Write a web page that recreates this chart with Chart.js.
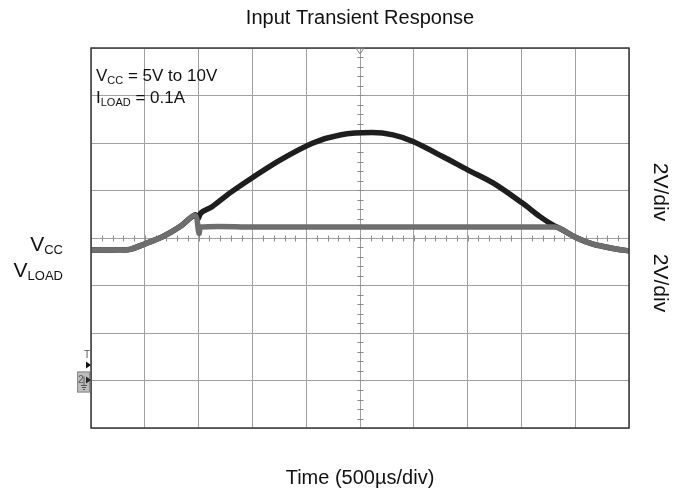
<!DOCTYPE html>
<html>
<head>
<meta charset="utf-8">
<title>Input Transient Response</title>
<script src="https://cdn.jsdelivr.net/npm/chart.js"></script>
<style>
  html, body { margin: 0; padding: 0; background: #fff; }
  #wrap { width: 688px; height: 496px; }
</style>
</head>
<body>
<div id="wrap"><canvas id="scopeChart" width="688" height="496"></canvas></div>
<script>
// Scope screen: x in microseconds (500us/div), y in screen divisions (2V/div)
const xTicks = [-2500, -2000, -1500, -1000, -500, 0, 500, 1000, 1500, 2000, 2500];
const yTicks = [-4, -3, -2, -1, 0, 1, 2, 3, 4];

// V_CC trace (input step 5V -> 10V -> 5V)
const vccTime = [-2500, -2230, -2137, -1983, -1831, -1673, -1533, -1506, -1478, -1375, -1208, -994, -743, -437, -186, 112, 307, 493, 772, 1004, 1236, 1506, 1673, 1794, 1859, 2017, 2165, 2351, 2500];
const vccDiv = [-0.25, -0.25, -0.24, -0.11, 0.03, 0.24, 0.49, 0.40, 0.53, 0.66, 0.95, 1.28, 1.64, 2.00, 2.17, 2.22, 2.17, 2.03, 1.71, 1.43, 1.16, 0.74, 0.45, 0.27, 0.20, 0.0, -0.13, -0.22, -0.27];

// V_LOAD trace (regulated output)
const loadTime = [-2500, -2230, -2137, -1983, -1831, -1673, -1533, -1496, -1477, -1000, 0, 1000, 1812, 1859, 2017, 2165, 2351, 2500];
const loadDiv = [-0.25, -0.25, -0.24, -0.11, 0.03, 0.24, 0.47, 0.10, 0.23, 0.23, 0.23, 0.23, 0.23, 0.20, 0.0, -0.13, -0.22, -0.27];

const FONT = "'Liberation Sans', Arial, sans-serif";

function toPoints(xs, ys) {
  return xs.map((x, i) => ({ x: x, y: ys[i] }));
}

// draw "V" + subscript; align right or left from x
function drawSub(ctx, x, y, main, sub, mainSize, subSize, align) {
  ctx.font = mainSize + "px " + FONT;
  const w1 = ctx.measureText(main).width;
  ctx.font = subSize + "px " + FONT;
  const w2 = ctx.measureText(sub).width;
  let x0 = align === "right" ? x - w1 - w2 : x;
  ctx.textAlign = "left";
  ctx.textBaseline = "alphabetic";
  ctx.font = mainSize + "px " + FONT;
  ctx.fillText(main, x0, y);
  ctx.font = subSize + "px " + FONT;
  ctx.fillText(sub, x0 + w1, y + Math.round(subSize * 0.25));
  return x0 + w1 + w2;
}

// frame, minor ticks on the centre lines and scope markers
const scopeDecor = {
  id: "scopeDecor",
  beforeDatasetsDraw(chart) {
    const { ctx, scales } = chart;
    const xs = scales.x, ys = scales.y;
    const cx = Math.round(xs.getPixelForValue(0)) + 0.5;
    const cy = Math.round(ys.getPixelForValue(0)) + 0.5;
    ctx.save();
    ctx.strokeStyle = "#8c8c8c";
    ctx.lineWidth = 1;
    ctx.beginPath();
    for (let t = xTicks[0]; t <= xTicks[xTicks.length - 1]; t += 100) {
      const px = Math.round(xs.getPixelForValue(t)) + 0.5;
      ctx.moveTo(px, cy - 3);
      ctx.lineTo(px, cy + 3);
    }
    for (let v = yTicks[0]; v <= yTicks[yTicks.length - 1] + 0.001; v += 0.2) {
      const py = Math.round(ys.getPixelForValue(v)) + 0.5;
      ctx.moveTo(cx - 3, py);
      ctx.lineTo(cx + 3, py);
    }
    ctx.stroke();
    ctx.restore();
  },
  afterDraw(chart) {
    const { ctx, chartArea: a, scales } = chart;
    const xs = scales.x, ys = scales.y;
    ctx.save();
    // frame
    ctx.strokeStyle = "#3a3a3a";
    ctx.lineWidth = 1.5;
    ctx.strokeRect(a.left, a.top, a.right - a.left, a.bottom - a.top);

    // trigger position marker (top)
    const tx = xs.getPixelForValue(0);
    ctx.strokeStyle = "#808080";
    ctx.lineWidth = 1;
    ctx.beginPath();
    ctx.moveTo(tx - 4, a.top);
    ctx.lineTo(tx + 4, a.top);
    ctx.lineTo(tx, a.top + 6);
    ctx.closePath();
    ctx.stroke();

    // trigger level + channel 2 ground marker (left)
    const gy = ys.getPixelForValue(-3);
    const lx = a.left;
    ctx.fillStyle = "#555";
    ctx.font = "10px " + FONT;
    ctx.textAlign = "center";
    ctx.textBaseline = "alphabetic";
    ctx.fillText("T", lx - 4, gy - 23);
    ctx.fillStyle = "#111";
    ctx.beginPath();
    ctx.moveTo(lx - 5, gy - 19);
    ctx.lineTo(lx, gy - 15.5);
    ctx.lineTo(lx - 5, gy - 12);
    ctx.closePath();
    ctx.fill();
    ctx.fillStyle = "#bdbdbd";
    ctx.strokeStyle = "#8a8a8a";
    ctx.fillRect(lx - 14, gy - 9, 13, 21);
    ctx.strokeRect(lx - 14 + 0.5, gy - 9 + 0.5, 12, 20);
    ctx.fillStyle = "#555";
    ctx.font = "10px " + FONT;
    ctx.textAlign = "left";
    ctx.fillText("2", lx - 13, gy + 2);
    ctx.strokeStyle = "#555";
    ctx.beginPath();
    ctx.moveTo(lx - 7, gy - 4); ctx.lineTo(lx - 7, gy + 5);
    ctx.moveTo(lx - 10, gy + 5); ctx.lineTo(lx - 4, gy + 5);
    ctx.moveTo(lx - 9, gy + 7); ctx.lineTo(lx - 5, gy + 7);
    ctx.moveTo(lx - 8, gy + 9); ctx.lineTo(lx - 6, gy + 9);
    ctx.stroke();
    ctx.fillStyle = "#222";
    ctx.beginPath();
    ctx.moveTo(lx - 5, gy - 4);
    ctx.lineTo(lx, gy - 0.5);
    ctx.lineTo(lx - 5, gy + 3);
    ctx.closePath();
    ctx.fill();

    // conditions text in the plot
    ctx.fillStyle = "#111";
    let e = drawSub(ctx, a.left + 5, 81, "V", "CC", 17, 11, "left");
    ctx.font = "17px " + FONT;
    ctx.fillText(" = 5V to 10V", e, 81);
    e = drawSub(ctx, a.left + 5, 103, "I", "LOAD", 17, 11, "left");
    ctx.font = "17px " + FONT;
    ctx.fillText(" = 0.1A", e, 103);

    // channel labels on the left
    drawSub(ctx, 63, 251, "V", "CC", 21, 13, "right");
    drawSub(ctx, 63, 277, "V", "LOAD", 21, 13, "right");

    // scale labels on the right, rotated
    ctx.font = "21px " + FONT;
    ctx.textAlign = "center";
    ctx.textBaseline = "middle";
    [192, 283].forEach((yy) => {
      ctx.save();
      ctx.translate(660, yy);
      ctx.rotate(Math.PI / 2);
      ctx.fillText("2V/div", 0, 0);
      ctx.restore();
    });
    ctx.restore();
  },
};

new Chart(document.getElementById("scopeChart"), {
  type: "line",
  data: {
    datasets: [
      {
        label: "VLOAD",
        data: toPoints(loadTime, loadDiv),
        borderColor: "#6e6e6e",
        borderWidth: 5.5,
        pointRadius: 0,
        tension: 0.3,
      },
      {
        label: "VCC",
        data: toPoints(vccTime, vccDiv),
        borderColor: "#1e1e1e",
        borderWidth: 5.5,
        pointRadius: 0,
        tension: 0.3,
      },
    ],
  },
  options: {
    responsive: false,
    animation: false,
    events: [],
    layout: { padding: { left: 91, right: 59, top: 0, bottom: 6 } },
    plugins: {
      legend: { display: false },
      tooltip: { enabled: false },
      title: {
        display: true,
        text: "Input Transient Response",
        color: "#111",
        font: { family: FONT, size: 20, weight: "normal" },
        padding: { top: 6, bottom: 18 },
      },
    },
    scales: {
      x: {
        type: "linear",
        min: xTicks[0],
        max: xTicks[xTicks.length - 1],
        afterBuildTicks: (s) => { s.ticks = xTicks.map((v) => ({ value: v })); },
        ticks: { display: false },
        grid: { color: "#a0a0a0", lineWidth: 1, drawTicks: false },
        border: { display: false },
        title: {
          display: true,
          text: "Time (500µs/div)",
          color: "#111",
          font: { family: FONT, size: 20 },
          padding: { top: 38, bottom: 0 },
        },
      },
      y: {
        type: "linear",
        min: yTicks[0],
        max: yTicks[yTicks.length - 1],
        afterBuildTicks: (s) => { s.ticks = yTicks.map((v) => ({ value: v })); },
        ticks: { display: false },
        grid: { color: "#a0a0a0", lineWidth: 1, drawTicks: false },
        border: { display: false },
      },
    },
  },
  plugins: [scopeDecor],
});
</script>
</body>
</html>
